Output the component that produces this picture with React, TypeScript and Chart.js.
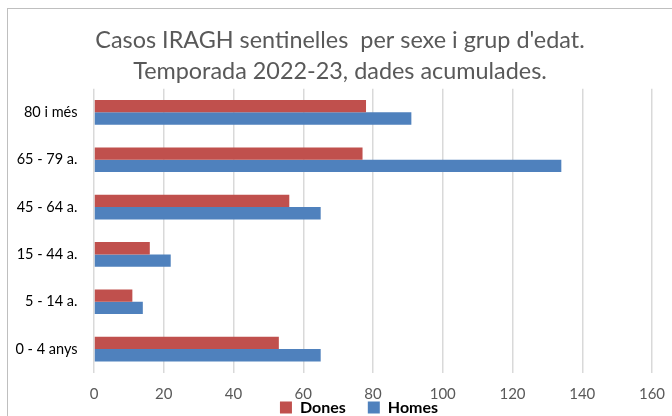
import React, { useEffect, useRef } from 'react';
import { Chart, registerables } from 'chart.js';

Chart.register(...registerables);

const categories = ['80 i més', '65 - 79 a.', '45 - 64 a.', '15 - 44 a.', '5 - 14 a.', '0 - 4 anys'];
const donesValues = [78, 77, 56, 16, 11, 53];
const homesValues = [91, 134, 65, 22, 14, 65];
const seriesNames = ['Dones', 'Homes'];
const titleLines = ["Casos IRAGH sentinelles  per sexe i grup d'edat.", 'Temporada 2022-23, dades acumulades.'];
const xMin = 0;
const xMax = 160;
const xStep = 20;

const FONT = 'Lato, "Open Sans", sans-serif';
const LEGEND_FONT_SIZE = 16;
const LEGEND_PADDING = 22;
const TITLE_SHIFT_X = 14;
const LEGEND_SHIFT_X = 33;
const LEGEND_CENTER_BELOW_PLOT = 34.7;

const layoutTweaks = {
  id: 'layoutTweaks',
  afterLayout(chart: any) {
    const t = chart.titleBlock;
    if (t) {
      t.left += TITLE_SHIFT_X;
      t.right += TITLE_SHIFT_X;
    }
    const lg = chart.legend;
    if (lg) {
      lg.left += LEGEND_SHIFT_X;
      lg.right += LEGEND_SHIFT_X;
      const desiredTop = chart.chartArea.bottom + LEGEND_CENTER_BELOW_PLOT - LEGEND_PADDING - LEGEND_FONT_SIZE / 2;
      const dy = desiredTop - lg.top;
      lg.top += dy;
      lg.bottom += dy;
    }
    const x = chart.scales.x;
    if (x) x.bottom = chart.height;
  },
};

export default function App() {
  const ref = useRef<HTMLCanvasElement | null>(null);

  useEffect(() => {
    if (!ref.current) return;
    const chart = new Chart(ref.current, {
      type: 'bar',
      data: {
        labels: categories,
        datasets: [
          {
            label: seriesNames[0],
            data: donesValues,
            backgroundColor: '#C0504D',
            borderWidth: 0,
            categoryPercentage: 0.52,
            barPercentage: 1.0,
          },
          {
            label: seriesNames[1],
            data: homesValues,
            backgroundColor: '#4F81BD',
            borderWidth: 0,
            categoryPercentage: 0.52,
            barPercentage: 1.0,
          },
        ],
      },
      plugins: [layoutTweaks],
      options: {
        indexAxis: 'y',
        responsive: false,
        animation: false,
        layout: { padding: { left: 0, right: 20, top: 0, bottom: -7.9 } },
        scales: {
          x: {
            min: xMin,
            max: xMax,
            ticks: { stepSize: xStep, color: '#595959', font: { family: FONT, size: 15 }, padding: 12.7 },
            grid: { color: '#D9D9D9', lineWidth: 1.5, drawTicks: false },
            border: { display: false },
            afterFit: (scale: any) => {
              scale.height = 3.1;
              scale.paddingLeft = 0;
              scale.paddingRight = 0;
            },
          },
          y: {
            grid: { display: false, drawTicks: false },
            border: { display: false },
            ticks: { color: '#000000', font: { family: FONT, size: 14.5 }, padding: 16.5 },
            afterFit: (scale: any) => {
              scale.width = 94;
            },
          },
        },
        plugins: {
          title: {
            display: true,
            text: titleLines,
            color: '#595959',
            font: { family: FONT, size: 23.4, weight: 'normal', lineHeight: 1.333 },
            padding: { top: 24.4, bottom: 1.9 },
          },
          legend: {
            position: 'bottom',
            labels: {
              color: '#000000',
              font: { family: FONT, size: LEGEND_FONT_SIZE, weight: 'bold', lineHeight: 1.2 },
              boxWidth: 12,
              boxHeight: 12,
              padding: LEGEND_PADDING,
            },
          },
          tooltip: { enabled: false },
        },
      },
    });
    return () => chart.destroy();
  }, []);

  return (
    <div style={{ position: 'absolute', left: 0, top: 0, width: 672, height: 416, overflow: 'hidden', background: '#fff' }}>
      <div
        style={{
          position: 'absolute',
          left: 7,
          top: 8,
          width: 720,
          height: 480,
          borderLeft: '1px solid #BFBFBF',
          borderTop: '1px solid #BFBFBF',
        }}
      />
      <canvas ref={ref} width={672} height={416} style={{ position: 'absolute', left: 0, top: 0, display: 'block' }} />
    </div>
  );
}
